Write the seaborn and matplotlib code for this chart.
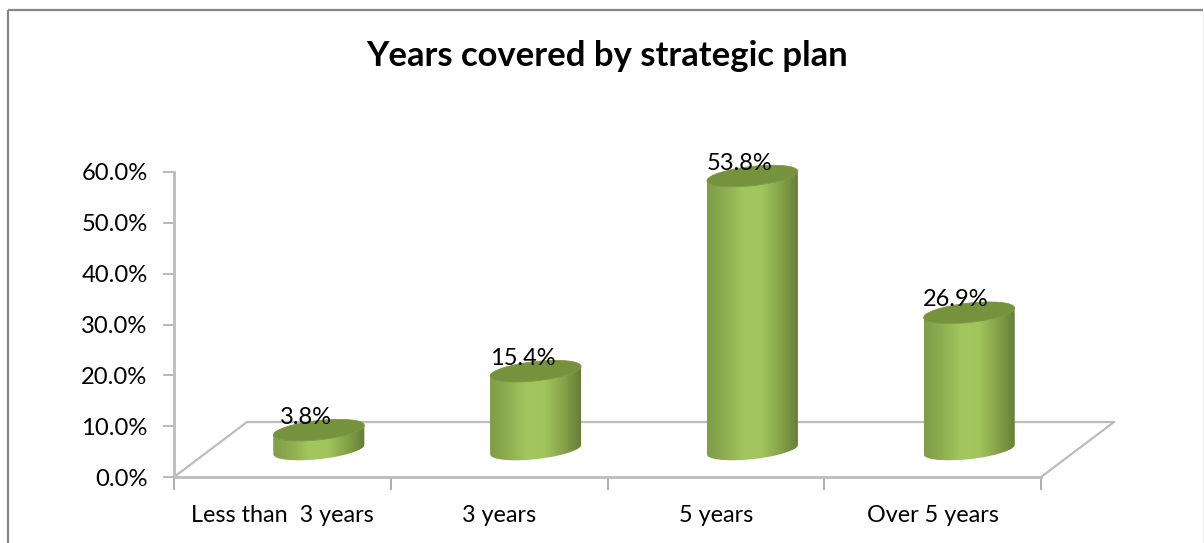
import numpy as np
import pandas as pd
import matplotlib
matplotlib.use("Agg")
import matplotlib.pyplot as plt
import seaborn as sns
from matplotlib.colors import LinearSegmentedColormap
from matplotlib.patches import Ellipse, PathPatch
from matplotlib.path import Path
from matplotlib.transforms import Affine2D, IdentityTransform

categories = ["Less than  3 years", "3 years", "5 years", "Over 5 years"]
shares = [3.8, 15.4, 53.8, 26.9]
y_ticks = [0, 10, 20, 30, 40, 50, 60]
title = "Years covered by strategic plan"

sns.set_theme(style="white")
plt.rcParams["font.family"] = ["Lato", "DejaVu Sans"]

W, H, DPI = 1204, 543, 100
fig = plt.figure(figsize=(W / DPI, H / DPI), dpi=DPI, facecolor="white")
ax = fig.add_axes([174 / W, 1 - 477 / H, 867 / W, 305 / H])

# depth of the floor in pixels, and the shift of the columns onto its middle
DEPTH_X, DEPTH_Y = 73, 55
column_shift = Affine2D().translate(DEPTH_X / 2, DEPTH_Y / 2)
floor_shift = Affine2D().translate(DEPTH_X, DEPTH_Y)

df = pd.DataFrame({"category": categories, "share": shares})
sns.barplot(data=df, x="category", y="share", order=categories, width=0.42,
            color="#8fb04e", saturation=1, ax=ax, zorder=3)

ax.set_xlim(-0.5, 3.5)
ax.set_ylim(0, 60)
ax.set_xlabel("")
ax.set_ylabel("")
ax.set_yticks(y_ticks)
ax.set_yticklabels([f"{v:.1f}%" for v in y_ticks])
ax.set_xticks(np.arange(-0.5, 4, 1), minor=True)
ax.tick_params(axis="x", which="major", length=0, pad=20.5, labelsize=16.8, labelcolor="black")
ax.tick_params(axis="x", which="minor", length=9, width=1.1, color="#969696", bottom=True)
ax.tick_params(axis="y", length=8, width=1.1, color="#a6a6a6", pad=11, labelsize=17.1,
               labelcolor="black", left=True)
ax.patch.set_visible(False)

for name in ("top", "right"):
    ax.spines[name].set_visible(False)
for name in ("left", "bottom"):
    ax.spines[name].set_color("#bcbcbc")
    ax.spines[name].set_linewidth(2.0)

# floor outline: the back edge and the two receding sides
line_style = dict(color="#bcbcbc", lw=1.6, clip_on=False, zorder=1, solid_capstyle="round")
ax.plot([-0.5, 3.5], [0, 0], transform=ax.transData + floor_shift, **line_style)
for x in (-0.5, 3.5):
    corner = ax.transData.transform((x, 0))
    ax.plot([corner[0], corner[0] + DEPTH_X], [corner[1], corner[1] + DEPTH_Y],
            transform=IdentityTransform(), **line_style)

shade = LinearSegmentedColormap.from_list(
    "column", ["#7f9c48", "#8fae50", "#a3c65e", "#a1c45c", "#86a34a", "#637d38"],
)
gradient = np.linspace(0, 1, 256)[None, :]

TILT = np.deg2rad(6.3)
SEMI_A, SEMI_B = 45.7, 9.6


def ellipse_points(cx, cy, t):
    x = SEMI_A * np.cos(t) * np.cos(TILT) - SEMI_B * np.sin(t) * np.sin(TILT)
    y = SEMI_A * np.cos(t) * np.sin(TILT) + SEMI_B * np.sin(t) * np.cos(TILT)
    return np.column_stack([cx + x, cy + y])


transform = ax.transData + column_shift
t0 = np.arctan2(-SEMI_B * np.tan(TILT), SEMI_A)

for bar, value in zip(list(ax.patches), shares):
    bar.set_transform(transform)
    bar.set_edgecolor("none")
    cx_data = bar.get_x() + bar.get_width() / 2
    cx, cy_low = transform.transform((cx_data, 0))
    _, cy_top = transform.transform((cx_data, value))

    # silhouette: lower half of the base, then back across the top rim
    lower = ellipse_points(cx, cy_low, np.linspace(t0 - np.pi, t0, 80))
    upper = ellipse_points(cx, cy_top, np.linspace(t0, t0 + np.pi, 80))
    outline = Path(np.vstack([lower, upper, lower[:1]]), closed=True)
    clip = PathPatch(outline, transform=IdentityTransform())
    bar.set_clip_path(clip)

    x0 = bar.get_x()
    x1 = x0 + bar.get_width()
    pad = 12 / (305 / 60)
    image = ax.imshow(gradient, cmap=shade, aspect="auto", zorder=3.2,
                      extent=(x0, x1, -pad, value + pad), transform=transform,
                      interpolation="bilinear")
    image.set_clip_path(clip)

    ax.add_patch(Ellipse((cx, cy_top), 2 * SEMI_A, 2 * SEMI_B, angle=np.rad2deg(TILT),
                         transform=IdentityTransform(), facecolor="#76923c",
                         edgecolor="#7f9a47", lw=0.6, zorder=3.4, clip_on=False))

    ax.annotate(f"{value:.1f}%", xy=(cx_data, value), xycoords=transform,
                xytext=(-13 * 0.72, 13 * 0.72), textcoords="offset points",
                ha="center", va="center", fontsize=17.0, color="black", zorder=5,
                annotation_clip=False)

ax.set_xlim(-0.5, 3.5)
ax.set_ylim(0, 60)

# outer chart frame, open along the lower edge
frame_kw = dict(transform=fig.transFigure, clip_on=False, solid_capstyle="butt")
fig.add_artist(plt.Line2D([8 / W, 8 / W], [0, 1 - 10 / H], color="#868686", lw=1.6, **frame_kw))
fig.add_artist(plt.Line2D([8 / W, 1203 / W], [1 - 10 / H, 1 - 10 / H], color="#868686", lw=1.6, **frame_kw))
fig.add_artist(plt.Line2D([1203.5 / W, 1203.5 / W], [0, 1 - 10 / H], color="#a8a8a8", lw=1.0, **frame_kw))

fig.text(607 / W, 1 - 56 / H, title, ha="center", va="center", fontsize=24.9,
         fontweight="bold", color="black")

fig.savefig("out.png", dpi=DPI, facecolor="white")
